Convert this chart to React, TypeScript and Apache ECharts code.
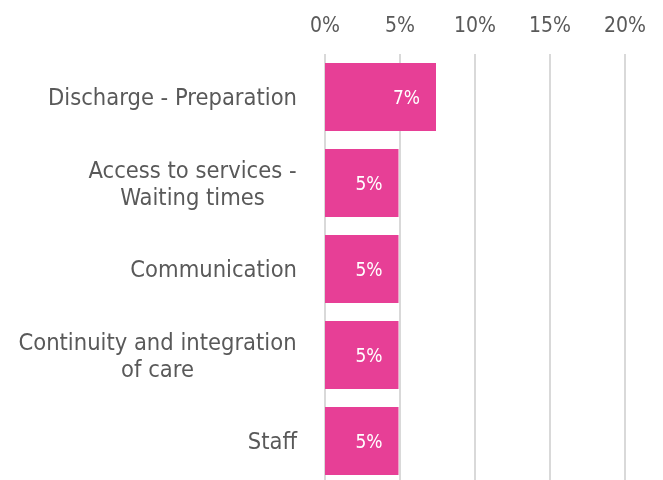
import React, { useEffect, useRef } from "react";
import * as echarts from "echarts";

const categories = [
  "Discharge - Preparation",
  "Access to services -\nWaiting times",
  "Communication",
  "Continuity and integration\nof care",
  "Staff",
];
const values = [7.4, 4.9, 4.9, 4.9, 4.9];
const axisMin = 0;
const axisMax = 20;
const axisInterval = 5;

const FONT = '"DejaVu Sans Condensed", "DejaVu Sans", sans-serif';
const TEXT = "#595959";
const PINK = "#E73F96";
const CAT_SIZE = 23.5;

function measure(text: string, size: number): number {
  const c = document.createElement("canvas");
  const ctx = c.getContext("2d");
  if (!ctx) return text.length * size * 0.5;
  ctx.font = `${size}px ${FONT}`;
  return ctx.measureText(text).width;
}

export default function App() {
  const ref = useRef<HTMLDivElement>(null);
  useEffect(() => {
    if (!ref.current) return;
    const chart = echarts.init(ref.current, undefined, { renderer: "svg" });

    const rich: Record<string, any> = {};
    const keyFor: Record<string, string> = {};
    categories.forEach((cat, i) => {
      if (cat.includes("\n")) {
        const w = Math.max(...cat.split("\n").map((l) => measure(l, CAT_SIZE)));
        const key = "r" + i;
        keyFor[cat] = key;
        rich[key] = {
          width: Math.ceil(w),
          align: "center",
          fontSize: CAT_SIZE,
          fontFamily: FONT,
          color: TEXT,
          lineHeight: 27,
        };
      }
    });

    chart.setOption({
      animation: false,
      grid: {
        left: 325,
        top: 54,
        width: 300,
        height: 430,
        containLabel: false,
        outerBoundsMode: "none",
      },
      xAxis: {
        type: "value",
        position: "top",
        min: axisMin,
        max: axisMax,
        interval: axisInterval,
        axisLine: { show: false },
        axisTick: { show: false },
        axisLabel: {
          formatter: "{value}%",
          fontSize: 21,
          fontFamily: FONT,
          color: TEXT,
          margin: 19,
        },
        splitLine: { show: true, lineStyle: { color: "#D9D9D9", width: 2 } },
      },
      yAxis: {
        type: "category",
        inverse: true,
        data: categories,
        axisLine: { show: false },
        axisTick: { show: false },
        axisLabel: {
          fontSize: CAT_SIZE,
          fontFamily: FONT,
          color: TEXT,
          margin: 28,
          lineHeight: 27,
          formatter: (v: string) => {
            const k = keyFor[v];
            if (!k) return v;
            return v
              .split("\n")
              .map((l) => `{${k}|${l}}`)
              .join("\n");
          },
          rich,
        },
      },
      series: [
        {
          type: "bar",
          data: values,
          barCategoryGap: "21%",
          itemStyle: { color: PINK },
          label: {
            show: true,
            position: "insideRight",
            distance: 16,
            color: "#FFFFFF",
            fontSize: 19,
            fontFamily: FONT,
            formatter: (p: any) => Math.round(p.value) + "%",
          },
        },
      ],
    });
    return () => chart.dispose();
  }, []);
  return (
    <div
      ref={ref}
      style={{ position: "fixed", left: 0, top: 0, width: 663, height: 480 }}
    />
  );
}
